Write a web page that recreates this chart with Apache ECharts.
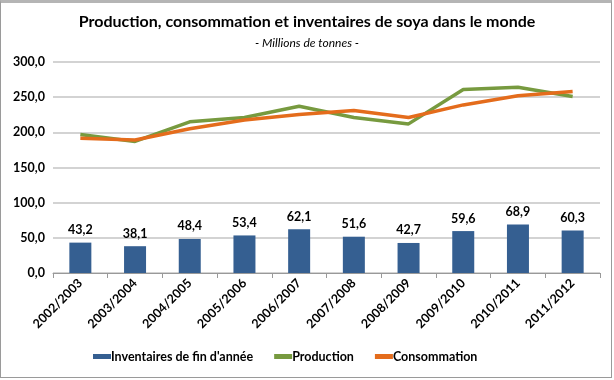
<!DOCTYPE html>
<html><head><meta charset="utf-8">
<script src="https://cdn.jsdelivr.net/npm/echarts@6/dist/echarts.min.js"></script>
<style>
html,body{margin:0;padding:0;background:#fff;}
#frame{position:absolute;left:0;top:0;width:612px;height:378px;border:1px solid #9a9a9a;border-top:3px solid #b5b5b5;box-sizing:border-box;}
#c{position:absolute;left:0;top:0;width:614px;height:380px;}
</style></head>
<body>
<div id="frame"></div>
<div id="c"></div>
<script>
const categories = ['2002/2003','2003/2004','2004/2005','2005/2006','2006/2007','2007/2008','2008/2009','2009/2010','2010/2011','2011/2012'];
const inventaires = [43.2,38.1,48.4,53.4,62.1,51.6,42.7,59.6,68.9,60.3];
const production = [197,187,215,221,237,221,212,261,264,251];
const consommation = [191.5,189,205,217.5,225.5,231,221,239,252,258];
const yTicks = [0,50,100,150,200,250,300];

const font = 'Lato, "Open Sans", sans-serif';
const fmt = v => v.toFixed(1).replace('.', ',');
const chart = echarts.init(document.getElementById('c'));
chart.setOption({
  animation:false,
  textStyle:{fontFamily:font},
  title:{text:'Production, consommation et inventaires de soya dans le monde',
    subtext:'- Millions de tonnes -', left:'center', top:9, itemGap:7,
    textStyle:{fontSize:16,fontWeight:'bold',color:'#000',fontFamily:font},
    subtextStyle:{fontSize:12,fontStyle:'italic',color:'#000',fontFamily:font}},
  legend:{bottom:12,left:88,itemWidth:18,itemHeight:5,itemGap:21,icon:'rect',
    textStyle:{fontSize:12.5,fontWeight:'bold',color:'#000',fontFamily:font,padding:[0,0,0,-5]},
    data:['Inventaires de fin d\'année','Production','Consommation']},
  grid:{left:53,right:14,top:62,bottom:107,containLabel:false},
  xAxis:{type:'category',data:categories,
    axisLine:{lineStyle:{color:'#999',width:1}},
    axisTick:{show:true,length:5,lineStyle:{color:'#999'}},
    axisLabel:{rotate:45,interval:0,fontSize:12.5,fontWeight:'bold',color:'#000',margin:8}},
  yAxis:{type:'value',min:yTicks[0],max:yTicks[yTicks.length-1],interval:50,
    axisLine:{show:false},axisTick:{show:false},
    splitLine:{lineStyle:{color:'#c4c4c4',width:1.5}},
    axisLabel:{formatter:fmt,fontSize:12.5,fontWeight:'bold',color:'#000',margin:8}},
  series:[
    {name:'Inventaires de fin d\'année',type:'bar',data:inventaires,barWidth:22,
     itemStyle:{color:'#355f91'},
     label:{show:true,position:'top',formatter:p=>fmt(p.value),fontSize:12.5,fontWeight:'bold',color:'#000',distance:6}},
    {name:'Production',type:'line',data:production,symbol:'none',
     lineStyle:{color:'#779a3f',width:3.5},itemStyle:{color:'#779a3f'}},
    {name:'Consommation',type:'line',data:consommation,symbol:'none',
     lineStyle:{color:'#e46c1c',width:3.5},itemStyle:{color:'#e46c1c'}}
  ]
});
</script>
</body></html>
